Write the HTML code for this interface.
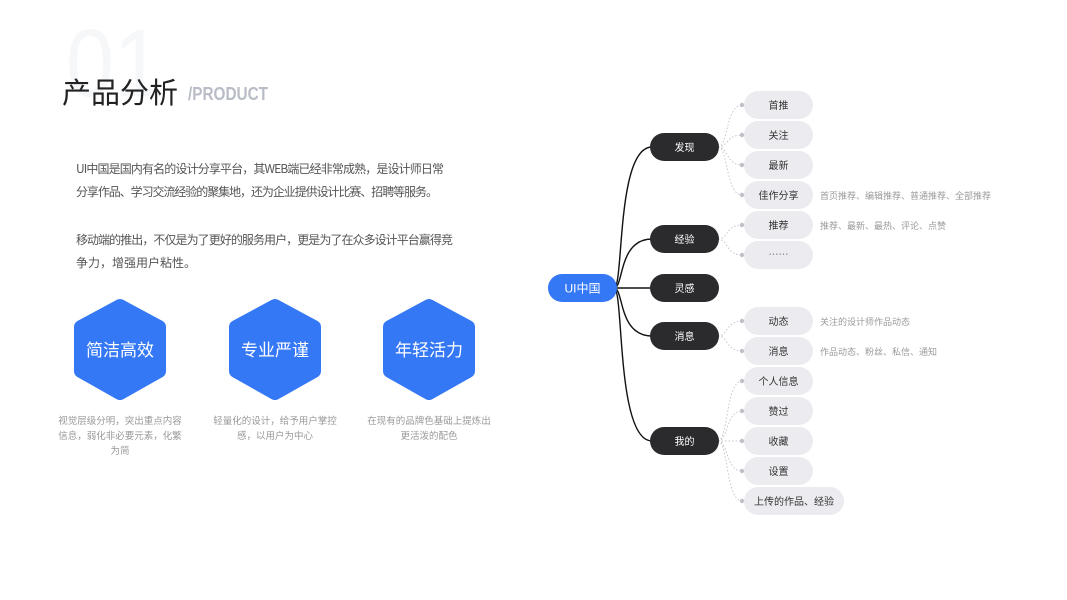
<!DOCTYPE html>
<html><head><meta charset="utf-8"><style>
html,body{margin:0;padding:0;background:#fff;}
svg{display:block;font-family:"Liberation Sans","Noto Sans CJK SC",sans-serif;}
</style></head><body>
<svg width="1067" height="600" viewBox="0 0 1067 600" xmlns="http://www.w3.org/2000/svg">
<text x="66" y="96" font-size="96" fill="#f6f7f9" font-family="Liberation Sans,sans-serif" textLength="96" lengthAdjust="spacingAndGlyphs">01</text>
<text x="62" y="103" font-size="29" fill="#222" font-family="Noto Sans CJK SC,sans-serif" textLength="116">产品分析</text>
<text x="188" y="100" font-size="18" fill="#b8bcc6" font-weight="bold" textLength="80" lengthAdjust="spacingAndGlyphs">/PRODUCT</text>

<g font-size="12" fill="#555" font-family="Noto Sans CJK SC,sans-serif">
<text x="76" y="173" textLength="368">UI中国是国内有名的设计分享平台，其WEB端已经非常成熟，是设计师日常</text>
<text x="76" y="196" textLength="362">分享作品、学习交流经验的聚集地，还为企业提供设计比赛、招聘等服务。</text>
<text x="76" y="244" textLength="377">移动端的推出，不仅是为了更好的服务用户，更是为了在众多设计平台赢得竞</text>
<text x="76" y="267">争力，增强用户粘性。</text>
</g>

<g fill="#3478f6" stroke="#3478f6" stroke-width="14" stroke-linejoin="round">
<polygon points="120,306 159,327 159,371 120,393 81,371 81,327"/>
<polygon points="275,306 314,327 314,371 275,393 236,371 236,327"/>
<polygon points="429,306 468,327 468,371 429,393 390,371 390,327"/>
</g>
<g font-size="17" fill="#fff" text-anchor="middle" font-family="Noto Sans CJK SC,sans-serif">
<text x="120" y="356">简洁高效</text>
<text x="275" y="356">专业严谨</text>
<text x="429" y="356">年轻活力</text>
</g>
<g font-size="9.5" fill="#999" text-anchor="middle" font-family="Noto Sans CJK SC,sans-serif">
<text x="120" y="424">视觉层级分明，突出重点内容</text>
<text x="120" y="439">信息，弱化非必要元素，化繁</text>
<text x="120" y="454">为简</text>
<text x="275" y="424">轻量化的设计，给予用户掌控</text>
<text x="275" y="439">感，以用户为中心</text>
<text x="429" y="424">在现有的品牌色基础上提炼出</text>
<text x="429" y="439">更活泼的配色</text>
</g>

<g fill="none" stroke="#111" stroke-width="1.4">
<path d="M614,288 C624,288 616,147 652,147"/>
<path d="M614,288 C624,288 618,239 652,239"/>
<path d="M614,288 L652,288"/>
<path d="M614,288 C624,288 618,336 652,336"/>
<path d="M614,288 C624,288 616,441 652,441"/>
</g>
<g fill="none" stroke="#c4c6cc" stroke-width="1" stroke-dasharray="1.5,2">
<path d="M718,147 C728,147 726,105 742,105"/>
<path d="M718,147 C728,147 726,135 742,135"/>
<path d="M718,147 C728,147 726,165 742,165"/>
<path d="M718,147 C728,147 726,195 742,195"/>
<path d="M718,239 C728,239 726,225 742,225"/>
<path d="M718,239 C728,239 726,255 742,255"/>
<path d="M718,336 C728,336 726,321 742,321"/>
<path d="M718,336 C728,336 726,351 742,351"/>
<path d="M718,441 C728,441 726,381 742,381"/>
<path d="M718,441 C728,441 726,411 742,411"/>
<path d="M718,441 L742,441"/>
<path d="M718,441 C728,441 726,471 742,471"/>
<path d="M718,441 C728,441 726,501 742,501"/>
</g>
<g fill="#bfc1c8">
<circle cx="742" cy="105" r="2.2"/><circle cx="742" cy="135" r="2.2"/><circle cx="742" cy="165" r="2.2"/><circle cx="742" cy="195" r="2.2"/>
<circle cx="742" cy="225" r="2.2"/><circle cx="742" cy="255" r="2.2"/><circle cx="742" cy="321" r="2.2"/><circle cx="742" cy="351" r="2.2"/>
<circle cx="742" cy="381" r="2.2"/><circle cx="742" cy="411" r="2.2"/><circle cx="742" cy="441" r="2.2"/><circle cx="742" cy="471" r="2.2"/><circle cx="742" cy="501" r="2.2"/>
</g>

<rect x="548" y="274" width="69" height="28" rx="14" fill="#3478f6"/>
<text x="582.5" y="292.5" font-size="12" fill="#fff" text-anchor="middle">UI中国</text>

<g fill="#2b2b2d">
<rect x="650" y="133" width="69" height="28" rx="14"/>
<rect x="650" y="225" width="69" height="28" rx="14"/>
<rect x="650" y="274" width="69" height="28" rx="14"/>
<rect x="650" y="322" width="69" height="28" rx="14"/>
<rect x="650" y="427" width="69" height="28" rx="14"/>
</g>
<g font-size="10" fill="#fff" text-anchor="middle" font-family="Noto Sans CJK SC,sans-serif">
<text x="684.5" y="151">发现</text><text x="684.5" y="243">经验</text><text x="684.5" y="292">灵感</text><text x="684.5" y="340">消息</text><text x="684.5" y="445">我的</text>
</g>

<g fill="#ececf0">
<rect x="744" y="91" width="69" height="28" rx="14"/>
<rect x="744" y="121" width="69" height="28" rx="14"/>
<rect x="744" y="151" width="69" height="28" rx="14"/>
<rect x="744" y="181" width="69" height="28" rx="14"/>
<rect x="744" y="211" width="69" height="28" rx="14"/>
<rect x="744" y="241" width="69" height="28" rx="14"/>
<rect x="744" y="307" width="69" height="28" rx="14"/>
<rect x="744" y="337" width="69" height="28" rx="14"/>
<rect x="744" y="367" width="69" height="28" rx="14"/>
<rect x="744" y="397" width="69" height="28" rx="14"/>
<rect x="744" y="427" width="69" height="28" rx="14"/>
<rect x="744" y="457" width="69" height="28" rx="14"/>
<rect x="744" y="487" width="100" height="28" rx="14"/>
</g>
<g font-size="10" fill="#333" text-anchor="middle" font-family="Noto Sans CJK SC,sans-serif">
<text x="778.5" y="109">首推</text><text x="778.5" y="139">关注</text><text x="778.5" y="169">最新</text><text x="778.5" y="199">佳作分享</text>
<text x="778.5" y="229">推荐</text><text x="778.5" y="258" fill="#777">……</text>
<text x="778.5" y="325">动态</text><text x="778.5" y="355">消息</text><text x="778.5" y="385">个人信息</text>
<text x="778.5" y="415">赞过</text><text x="778.5" y="445">收藏</text><text x="778.5" y="475">设置</text>
<text x="794" y="505">上传的作品、经验</text>
</g>
<g font-size="9" fill="#9a9a9a" font-family="Noto Sans CJK SC,sans-serif">
<text x="820" y="199">首页推荐、编辑推荐、普通推荐、全部推荐</text>
<text x="820" y="229">推荐、最新、最热、评论、点赞</text>
<text x="820" y="325">关注的设计师作品动态</text>
<text x="820" y="355">作品动态、粉丝、私信、通知</text>
</g>
</svg>
</body></html>
